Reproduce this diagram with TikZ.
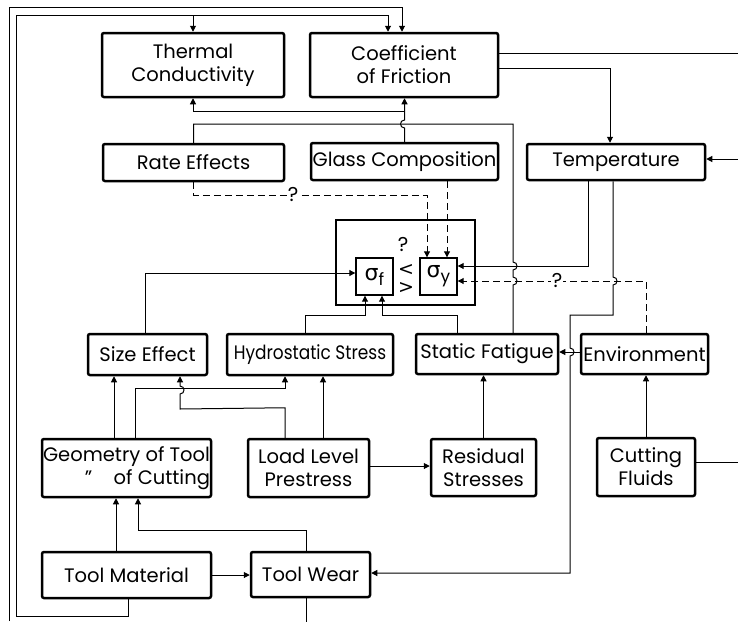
\documentclass[tikz,border=0pt]{standalone}
\usepackage{fontspec}
\usepackage{graphicx}
\setmainfont{Poppins}
\newfontfamily\greekfont{DejaVu Sans}
\usetikzlibrary{arrows.meta}
\newcommand{\vjumpd}[3]{-- (#1,#2-4) .. controls ({#1+#3*5.3},#2-4) and ({#1+#3*5.3},#2+4) .. (#1,#2+4)}
\newcommand{\vjumpu}[3]{-- (#1,#2+4) .. controls ({#1+#3*5.3},#2+4) and ({#1+#3*5.3},#2-4) .. (#1,#2-4)}
\newcommand{\boxfont}{\fontsize{19.5}{23}\selectfont}
\tikzset{
  box/.style={draw, line width=2.5pt, rounded corners=2pt, inner sep=0pt, align=center, font=\boxfont},
  sigbox/.style={draw, line width=1.4pt, inner sep=0pt, minimum width=37pt, minimum height=37pt},
  conn/.style={line width=1pt},
  arr/.style={conn, -{Triangle[length=6pt,width=6pt]}},
  dsh/.style={dash pattern=on 7pt off 4pt},
  qmark/.style={font=\fontsize{20}{20}\selectfont, inner sep=1pt},
  cmpmark/.style={font=\greekfont\fontsize{19}{19}\selectfont, inner sep=0pt},
}
\begin{document}
\begin{tikzpicture}[x=1pt,y=-1pt]
\useasboundingbox[fill=white] (0,0) rectangle (738,621);
% boxes
\node[box, minimum width=182pt, minimum height=64pt] (thermal) at (193,65) {Thermal\\Conductivity};
\node[box, minimum width=188pt, minimum height=64pt] (coef) at (404,65) {Coefficient\\of Friction};
\node[box, minimum width=181pt, minimum height=37pt] (rate) at (193.5,162.5) {Rate Effects};
\node[box, minimum width=187pt, minimum height=37pt] (glass) at (404.5,161.5) {Glass Composition};
\node[box, minimum width=178pt, minimum height=36pt] (temp) at (616,162) {Temperature};
\node[draw, line width=1.2pt, minimum width=139pt, minimum height=85pt, inner sep=0pt] (sbox) at (405.5,262.5) {};
\node[sigbox] (sigf) at (374.5,276.5) {{\greekfont\fontsize{22}{22}\selectfont σ}\raisebox{-5pt}{\fontsize{17}{17}\selectfont f}};
\node[sigbox] (sigy) at (438.5,276.5) {{\greekfont\fontsize{22}{22}\selectfont σ}\raisebox{-5pt}{\fontsize{17}{17}\selectfont y}};
\node[qmark] (q2) at (403,244) {?};
\node[cmpmark] (lt) at (406,270) {<};
\node[cmpmark] (gt) at (406,288) {>};
\node[box, minimum width=119pt, minimum height=41pt] (se) at (147.5,354.5) {Size Effect};
\node[box, minimum width=166pt, minimum height=41pt] (hyd) at (310,354.5) {\scalebox{0.87}[1]{Hydrostatic Stress}};
\node[box, minimum width=142pt, minimum height=40pt] (fat) at (487,354) {Static Fatigue};
\node[box, minimum width=127pt, minimum height=40pt] (env) at (644.5,354) {Environment};
\node[box, minimum width=169pt, minimum height=58pt, align=right] (geo) at (126.5,468) {Geometry of Tool\\"\hspace{1.1em}of Cutting};
\node[box, minimum width=121pt, minimum height=58pt] (load) at (308.5,468) {Load Level\\Prestress};
\node[box, minimum width=105pt, minimum height=57pt] (res) at (483.5,467.5) {Residual\\Stresses};
\node[box, minimum width=98pt, minimum height=58pt] (cf) at (646,467) {Cutting\\Fluids};
\node[box, minimum width=169pt, minimum height=46pt] (tm) at (126.5,575) {Tool Material};
\node[box, minimum width=119pt, minimum height=45pt] (tw) at (310.5,574.5) {Tool Wear};
% frame coordinates
\coordinate (ob) at (9,621);
\coordinate (ot) at (9,7);
\coordinate (ibl) at (16,616);
\coordinate (itl) at (16,15);
\coordinate (tin) at (738,159);
% outer frame
\draw[arr] (ob) -- (ot) -| ([xshift=-2pt]coef.north);
\draw[arr] ([xshift=1.5pt]tm.south) |- (ibl) -- (itl) -| ([xshift=-16pt]coef.north);
\draw[arr] (itl -| thermal.north) -- (thermal.north);
% coefficient outputs
\draw[conn] ([yshift=12pt]coef.east) -- ++(240,0);
\draw[arr] ([yshift=-3pt]coef.east) -| ([xshift=-6pt]temp.north);
\draw[arr] (tin) -- ([yshift=3pt]temp.east);
% glass composition up
\draw[arr] (glass.north) \vjumpu{404.5}{124}{-1} -- (glass.north |- coef.south);
\coordinate (g1) at (404.5,111);
\draw[arr] (g1) -| (thermal.south);
% rate effects to static fatigue
\coordinate (j1) at (513,124);
\draw[conn] (rate.north) |- (j1) \vjumpd{513}{266}{1} \vjumpd{513}{281}{1} -- ([xshift=26pt]fat.north);
% dashed into sigma y
\coordinate (d1) at (427,195);
\draw[arr,dsh] (rate.south) |- (d1) -- ([xshift=-11.5pt]sigy.north);
\node[qmark, fill=white] (q1) at (293,194) {?};
\draw[arr,dsh] ([xshift=42.5pt]glass.south) -- ([xshift=8.5pt]sigy.north);
% temperature outputs
\draw[arr] ([xshift=-28pt]temp.south) |- ([yshift=10.5pt]sigy.east);
\draw[arr] ([xshift=-3pt]temp.south) \vjumpd{613}{281}{1} -- (613,315) -- (570,315) \vjumpd{570}{352}{1} |- ([yshift=1.5pt]tw.east);
% environment
\draw[arr,dsh] ([xshift=1.5pt]env.north) |- ([yshift=-4.5pt]sigy.east);
\node[qmark, fill=white] (q3) at (557,280) {?};
\draw[arr] ([yshift=2pt]env.west) -- ([yshift=2pt]env.west -| fat.east);
% into sigma f
\draw[arr] ([xshift=-2.5pt]se.north) |- ([yshift=3.5pt]sigf.west);
\draw[arr] ([xshift=-5pt]hyd.north) -- ++(0,-17) -| ([xshift=-9.5pt]sigf.south);
\draw[arr] ([xshift=-30pt]fat.north) -- ++(0,-17) -| ([xshift=7.5pt]sigf.south);
% lower level
\draw[arr] ([xshift=-12.5pt]geo.north) -- ([xshift=-33.5pt]se.south);
\draw[arr] ([xshift=8.5pt]geo.north) -- ++(0,-49) -| ([xshift=-25pt]hyd.south);
\draw[arr] ([xshift=-23.5pt]load.north) -- ++(0,-30) -- (180,409) \vjumpu{180}{390}{1} -- ([xshift=32.5pt]se.south);
\draw[arr] ([xshift=14.5pt]load.north) -- ([xshift=13pt]hyd.south);
\draw[arr] ([yshift=2pt]load.east) -- ([yshift=2pt]load.east -| res.west);
\draw[arr] (res.north) -- (res.north |- fat.south);
\draw[arr] (cf.north) -- (cf.north |- env.south);
\draw[conn] ([yshift=5pt]cf.east) -- ++(43,0);
\draw[arr] ([xshift=-10.5pt]tm.north) -- ([xshift=-10.5pt]geo.south);
\draw[arr] ([xshift=-4.5pt]tw.north) -- ++(0,-20) -| ([xshift=11.5pt]geo.south);
\draw[arr] (tm.east) -- (tm.east -| tw.west);
\draw[conn] ([xshift=-4.5pt]tw.south) -- ++(0,24);
\end{tikzpicture}
\end{document}
